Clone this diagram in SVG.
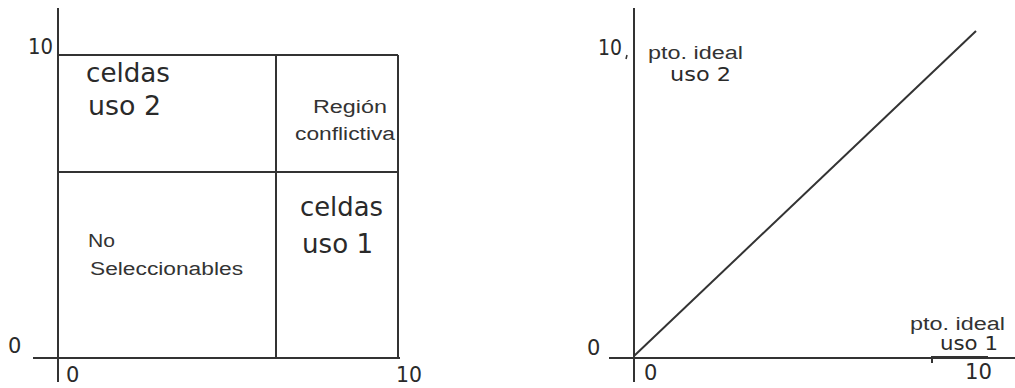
<svg xmlns="http://www.w3.org/2000/svg" width="1015" height="388" viewBox="0 0 1015 388">
<style>
.ln{stroke:#333;stroke-width:2;fill:none}
.big{font-family:"DejaVu Sans",sans-serif;font-size:27px;fill:#2a2a2a}
.num{font-family:"DejaVu Sans",sans-serif;font-size:21px;fill:#2a2a2a}
.sm{font-family:"Liberation Sans",Arial,sans-serif;font-size:18px;fill:#333}
.md{font-family:"DejaVu Sans",sans-serif;font-size:19px;fill:#2a2a2a}
</style>
<rect width="1015" height="388" fill="#fff"/>
<g id="left-chart">
  <g id="left-axes">
    <line class="ln" x1="58" y1="8" x2="58" y2="382"/>
    <line class="ln" x1="33" y1="358" x2="400" y2="358"/>
  </g>
  <g id="left-grid">
    <line class="ln" x1="58" y1="55" x2="398" y2="55"/>
    <line class="ln" x1="398" y1="55" x2="398" y2="358"/>
    <line class="ln" x1="58" y1="172" x2="398" y2="172"/>
    <line class="ln" x1="276" y1="55" x2="276" y2="358"/>
  </g>
  <g id="left-labels">
    <text class="num" x="28" y="54" textLength="25" lengthAdjust="spacingAndGlyphs">10</text>
    <text class="num" x="8" y="353">0</text>
    <text class="num" x="66" y="382">0</text>
    <text class="num" x="396" y="382" textLength="26" lengthAdjust="spacingAndGlyphs">10</text>
  </g>
  <g id="cell-uso2">
    <text class="big" x="86" y="82" textLength="84" lengthAdjust="spacingAndGlyphs">celdas</text>
    <text class="big" x="88" y="115" textLength="73" lengthAdjust="spacingAndGlyphs">uso 2</text>
  </g>
  <g id="cell-conflict">
    <text class="sm" x="313" y="113" textLength="74" lengthAdjust="spacingAndGlyphs">Región</text>
    <text class="sm" x="295" y="140" textLength="100" lengthAdjust="spacingAndGlyphs">conflictiva</text>
  </g>
  <g id="cell-noselect">
    <text class="sm" x="88" y="247" textLength="27" lengthAdjust="spacingAndGlyphs">No</text>
    <text class="sm" x="90" y="275" textLength="153" lengthAdjust="spacingAndGlyphs">Seleccionables</text>
  </g>
  <g id="cell-uso1">
    <text class="big" x="300" y="216" textLength="83" lengthAdjust="spacingAndGlyphs">celdas</text>
    <text class="big" x="302" y="253" textLength="71" lengthAdjust="spacingAndGlyphs">uso 1</text>
  </g>
</g>
<g id="right-chart">
  <g id="right-axes">
    <line class="ln" x1="634" y1="8" x2="634" y2="382"/>
    <line class="ln" x1="609" y1="358" x2="1015" y2="358"/>
    <path class="ln" d="M932,363 L932,357 L988,357"/>
    <line class="ln" x1="627" y1="55" x2="626" y2="59" style="stroke-width:1.5"/>
  </g>
  <g id="diagonal">
    <line class="ln" x1="634" y1="356" x2="976" y2="31"/>
  </g>
  <g id="right-labels">
    <text class="num" x="598" y="55" textLength="24" lengthAdjust="spacingAndGlyphs">10</text>
    <text class="num" x="587" y="355">0</text>
    <text class="num" x="644" y="380">0</text>
    <text class="num" x="965" y="379" textLength="27" lengthAdjust="spacingAndGlyphs">10</text>
  </g>
  <g id="ideal-uso2">
    <text class="sm" x="648" y="59" font-size="17" textLength="95" lengthAdjust="spacingAndGlyphs">pto. ideal</text>
    <text class="md" x="670" y="81" textLength="61" lengthAdjust="spacingAndGlyphs">uso 2</text>
  </g>
  <g id="ideal-uso1">
    <text class="sm" x="910" y="330" font-size="17" textLength="95" lengthAdjust="spacingAndGlyphs">pto. ideal</text>
    <text class="md" x="940" y="350" font-size="17" textLength="58" lengthAdjust="spacingAndGlyphs">uso 1</text>
  </g>
</g>
</svg>
